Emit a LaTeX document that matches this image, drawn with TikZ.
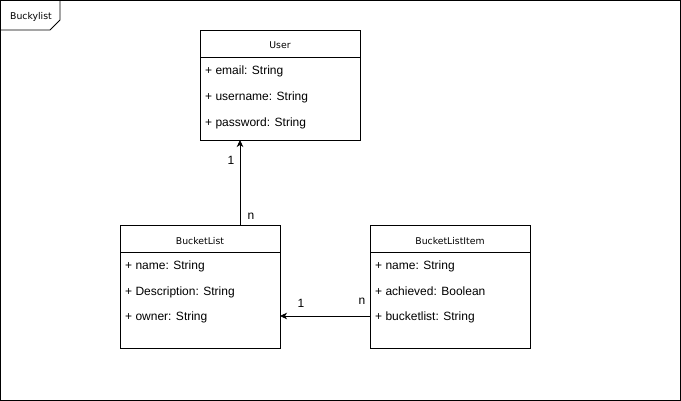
\documentclass[tikz,border=0pt]{standalone}
\usepackage{fontspec}
\setmainfont{Liberation Sans}
\newfontfamily\hdrfont{DejaVu Sans}
\usetikzlibrary{arrows.meta}
\begin{document}
\begin{tikzpicture}[x=1pt,y=-1pt,
  box/.style={draw,line width=0.8pt},
  hdr/.style={font=\hdrfont\fontsize{9.3}{11}\selectfont,inner sep=0,anchor=base},
  attr/.style={font=\fontsize{12}{14}\selectfont,anchor=base west,inner sep=0},
  mult/.style={font=\fontsize{12}{14}\selectfont,inner sep=0,anchor=base},
  conn/.style={line width=0.8pt,-{Stealth[length=7pt,width=6.5pt,inset=2pt]}}]
\useasboundingbox (0,0) rectangle (681,401);
% frame
\draw[line width=0.8pt] (0.5,0.5) rectangle (680.5,400.5);
\draw[line width=0.8pt] (0.5,30) -- (50,30) -- (60,20) -- (60,0.5);
\node[hdr] (frame) at (31,20) {Buckylist};
% User
\draw[box] (200,30) rectangle (360,140);
\draw[box] (200,57) -- (360,57);
\node[hdr] (user) at (280,49) {User};
\node[attr] (u1) at (205,74.5) {+ email: String};
\node[attr] (u2) at (205,100.5) {+ username: String};
\node[attr] (u3) at (205,126.5) {+ password: String};
\coordinate (userB) at (240,140);
% BucketList
\draw[box] (120,225) rectangle (280,348);
\draw[box] (120,252) -- (280,252);
\node[hdr] (bl) at (200,244) {BucketList};
\node[attr] (b1) at (125,269.5) {+ name: String};
\node[attr] (b2) at (125,295.5) {+ Description: String};
\node[attr] (b3) at (125,320.5) {+ owner: String};
\coordinate (blT) at (240,225);
\coordinate (blR) at (280,316);
% BucketListItem
\draw[box] (370,225) rectangle (530,348);
\draw[box] (370,252) -- (530,252);
\node[hdr] (bli) at (450,244) {BucketListItem};
\node[attr] (i1) at (375,269.5) {+ name: String};
\node[attr] (i2) at (375,295.5) {+ achieved: Boolean};
\node[attr] (i3) at (375,320.5) {+ bucketlist: String};
\coordinate (bliL) at (370,316);
% connectors
\draw[conn] (blT) -- (userB);
\draw[conn] (bliL) -- (blR);
\node[mult] (m1) at (231,164.5) {1};
\node[mult] (m2) at (251,219.5) {n};
\node[mult] (m3) at (301,307.5) {1};
\node[mult] (m4) at (362,304.5) {n};
\end{tikzpicture}
\end{document}
